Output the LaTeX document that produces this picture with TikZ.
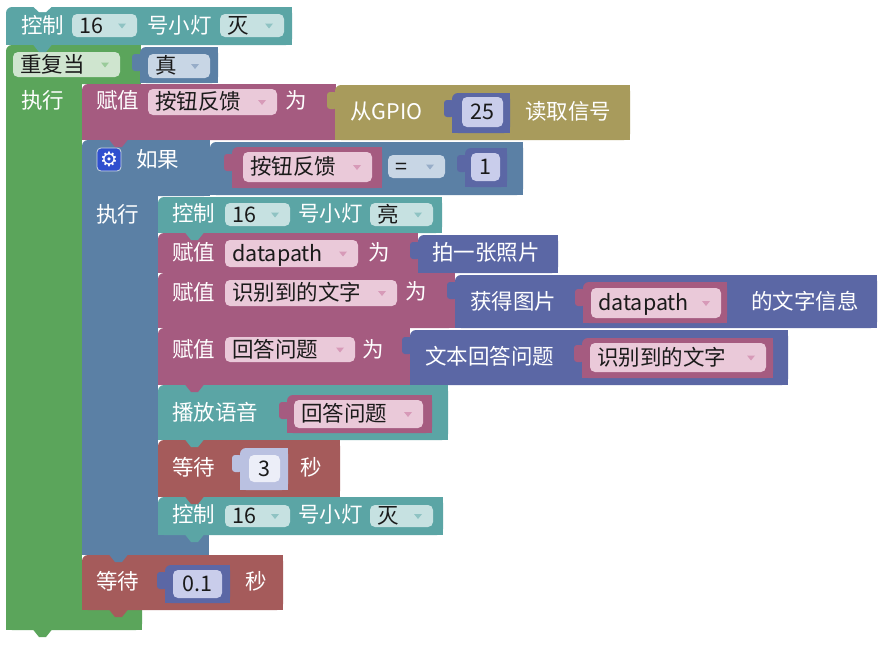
\documentclass[tikz,border=0pt]{standalone}
\usepackage{fontspec}
\setmainfont{Noto Sans CJK SC}
\newfontfamily\dvfont{DejaVu Sans}
\definecolor{cteal}{HTML}{5BA5A5}
\definecolor{cgreen}{HTML}{5BA55B}
\definecolor{cblue}{HTML}{5B80A5}
\definecolor{cvar}{HTML}{A55B80}
\definecolor{colive}{HTML}{A89B5C}
\definecolor{cindigo}{HTML}{5B67A5}
\definecolor{cred}{HTML}{A55B5B}
\definecolor{clav}{HTML}{BAC1E1}
\definecolor{cgear}{HTML}{2F4FCF}
\definecolor{fteal}{HTML}{C6E1E1}
\definecolor{fgreen}{HTML}{CFE5CF}
\definecolor{fblue}{HTML}{C8D6E5}
\definecolor{fvar}{HTML}{EAC9D9}
\definecolor{findigo}{HTML}{C9CDEB}
\definecolor{flav}{HTML}{ECEEF8}
\definecolor{ateal}{HTML}{8FC3C3}
\definecolor{agreen}{HTML}{9ACB9A}
\definecolor{ablue}{HTML}{97ADC8}
\definecolor{avar}{HTML}{D79AB8}
\definecolor{fieldtext}{HTML}{1A1A1A}
% block: color x1 y1 x2 y2 (top-left rounded)
\newcommand\BK[5]{%
  \fill[#1,rounded corners=6pt] (#2,#3) rectangle (#4,#5);
  \fill[#1] ({#2+7},#3) rectangle (#4,#5);
  \fill[#1] (#2,{#3+7}) rectangle (#4,#5);}
% value block with output tab
\newcommand\VB[5]{\BK{#1}{#2}{#3}{#4}{#5}%
  \fill[#1,rounded corners=3pt] ({#2-8},{#3+7}) rectangle ({#2+2},{#3+24});}
% statement tab under a block
\newcommand\TB[3]{\fill[#1] ({#2+27},{#3-0.5}) -- ({#2+46},{#3-0.5}) -- ({#2+40},{#3+7}) -- ({#2+33},{#3+7}) -- cycle;}
% dropdown field: name x1 y1 x2 y2 fill text arrow
\newcommand\FD[8]{%
  \fill[#6,rounded corners=5pt] (#2,#3) rectangle (#4,#5);
  \node[anchor=west,text=fieldtext] (#1) at ({#2+7},{(#3+#5)/2}) {#7};
  \fill[#8] ({#4-19},{(#3+#5)/2-2}) -- ({#4-11},{(#3+#5)/2-2}) -- ({#4-15},{(#3+#5)/2+3}) -- cycle;}
% number field
\newcommand\NF[7]{%
  \fill[#6,rounded corners=5pt] (#2,#3) rectangle (#4,#5);
  \node[text=fieldtext] (#1) at ({(#2+#4)/2},{(#3+#5)/2}) {#7};}
% white label
\newcommand\LB[4]{\node[anchor=west,text=white] (#1) at (#2,#3) {#4};}
\begin{document}
\begin{tikzpicture}[x=1pt,y=-1pt,
  every node/.style={inner sep=0pt, font=\fontsize{21.5}{24}\selectfont, text height=16pt, text depth=1pt}]
\useasboundingbox (0,0) rectangle (887,645);
\fill[white] (0,0) rectangle (887,645);

% top block
\BK{cteal}{6}{7}{292}{45}
\fill[white] (33,6.5) -- (52,6.5) -- (46,12) -- (39,12) -- cycle;
\LB{t1}{21}{26}{控制}
\FD{f1}{72}{14}{137}{37}{fteal}{16}{ateal}
\LB{t2}{147}{26}{号小灯}
\FD{f2}{220}{14}{284}{37}{fteal}{灭}{ateal}

% repeat loop
\BK{cgreen}{6}{45}{141}{84}
\fill[cgreen] (6,60) rectangle (82,600);
\fill[cgreen,rounded corners=6pt] (6,590) rectangle (142,630);
\fill[cgreen] (6,610) rectangle (142,630);
\fill[cgreen] (6,590) rectangle (82,620);
\FD{f3}{13}{52}{120}{77}{fgreen}{重复当}{agreen}
\VB{cblue}{140}{47}{218}{83}
\FD{f4}{148}{54}{210}{78}{fblue}{真}{ablue}
\LB{t3}{21}{101}{执行}

% assign button feedback
\BK{cvar}{82}{84}{336}{140}
\LB{t4}{96}{101}{赋值}
\FD{f5}{148}{89}{277}{115}{fvar}{按钮反馈}{avar}
\LB{t5}{285}{101}{为}
\VB{colive}{335}{85}{630}{140}
\LB{t6}{350}{112}{从GPIO}
\VB{cindigo}{452}{93}{510}{133}
\NF{f6}{462}{97}{503}{127}{findigo}{25}
\LB{t7}{525}{112}{读取信号}

% if block
\BK{cblue}{82}{140}{210}{196}
\fill[cblue] (82,150) rectangle (158,555);
\fill[cblue] (82,535) rectangle (209,555);
\fill[cgear,rounded corners=4pt,draw=white!70!cblue,line width=0.8pt] (97,148) rectangle (121,171);
\node[text=white,font=\dvfont\fontsize{20}{20}\selectfont,text height=14pt,text depth=0pt] (gear) at (109,159.5) {⚙};
\LB{t8}{136}{160}{如果}
\VB{cblue}{210}{142}{523}{195}
\VB{cvar}{232}{147}{382}{188}
\FD{f7}{243}{152}{372}{182}{fvar}{按钮反馈}{avar}
\FD{f8}{388}{155}{445}{178}{fblue}{=}{ablue}
\VB{cindigo}{465}{148}{507}{187}
\NF{f9}{471}{153}{500}{181}{findigo}{1}
\LB{t9}{96}{215}{执行}

% statement 1
\BK{cteal}{158}{197}{442}{233}
\LB{t10}{172}{214}{控制}
\FD{f10}{225}{203}{290}{226}{fteal}{16}{ateal}
\LB{t11}{298}{214}{号小灯}
\FD{f11}{370}{203}{433}{226}{fteal}{亮}{ateal}

% statement 2
\BK{cvar}{158}{233}{418}{273}
\LB{t12}{172}{253}{赋值}
\FD{f12}{225}{240}{358}{267}{fvar}{datapath}{avar}
\LB{t13}{368}{253}{为}
\VB{cindigo}{418}{235}{558}{273}
\LB{t14}{432}{253}{拍一张照片}

% statement 3
\BK{cvar}{158}{273}{455}{328}
\LB{t15}{172}{293}{赋值}
\FD{f13}{225}{280}{397}{306}{fvar}{识别到的文字}{avar}
\LB{t16}{405}{292}{为}
\VB{cindigo}{455}{275}{877}{328}
\LB{t17}{470}{302}{获得图片}
\VB{cvar}{583}{282}{727}{323}
\FD{f14}{591}{288}{721}{318}{fvar}{datapath}{avar}
\LB{t18}{751}{302}{的文字信息}

% statement 4
\BK{cvar}{158}{328}{410}{385}
\LB{t19}{172}{350}{赋值}
\FD{f15}{225}{337}{355}{362}{fvar}{回答问题}{avar}
\LB{t20}{362}{350}{为}
\VB{cindigo}{410}{330}{788}{385}
\LB{t21}{425}{357}{文本回答问题}
\VB{cvar}{582}{338}{773}{378}
\FD{f16}{590}{343}{766}{372}{fvar}{识别到的文字}{avar}

% statement 5
\BK{cteal}{158}{385}{448}{440}
\LB{t22}{172}{413}{播放语音}
\VB{cvar}{287}{395}{432}{433}
\FD{f17}{294}{400}{423}{428}{fvar}{回答问题}{avar}

% statement 6
\BK{cred}{158}{440}{340}{497}
\LB{t23}{172}{468}{等待}
\VB{clav}{240}{448}{288}{490}
\NF{f18}{249}{455}{280}{482}{flav}{3}
\LB{t24}{300}{468}{秒}

% statement 7
\BK{cteal}{158}{497}{443}{535}
\LB{t25}{172}{515}{控制}
\FD{f19}{225}{505}{290}{527}{fteal}{16}{ateal}
\LB{t26}{298}{515}{号小灯}
\FD{f20}{370}{505}{433}{527}{fteal}{灭}{ateal}

% wait 0.1
\BK{cred}{82}{555}{283}{610}
\LB{t27}{96}{582}{等待}
\VB{cindigo}{165}{565}{230}{603}
\NF{f21}{173}{570}{222}{598}{findigo}{0.1}
\LB{t28}{245}{582}{秒}

% statement tabs
\TB{cteal}{6}{45}
\TB{cvar}{82}{140}
\TB{cteal}{158}{233}
\TB{cvar}{158}{273}
\TB{cvar}{158}{328}
\TB{cvar}{158}{385}
\TB{cteal}{158}{440}
\TB{cred}{158}{497}
\TB{cteal}{158}{535}
\TB{cblue}{82}{555}
\TB{cred}{82}{610}
\TB{cgreen}{6}{630}
\end{tikzpicture}
\end{document}
